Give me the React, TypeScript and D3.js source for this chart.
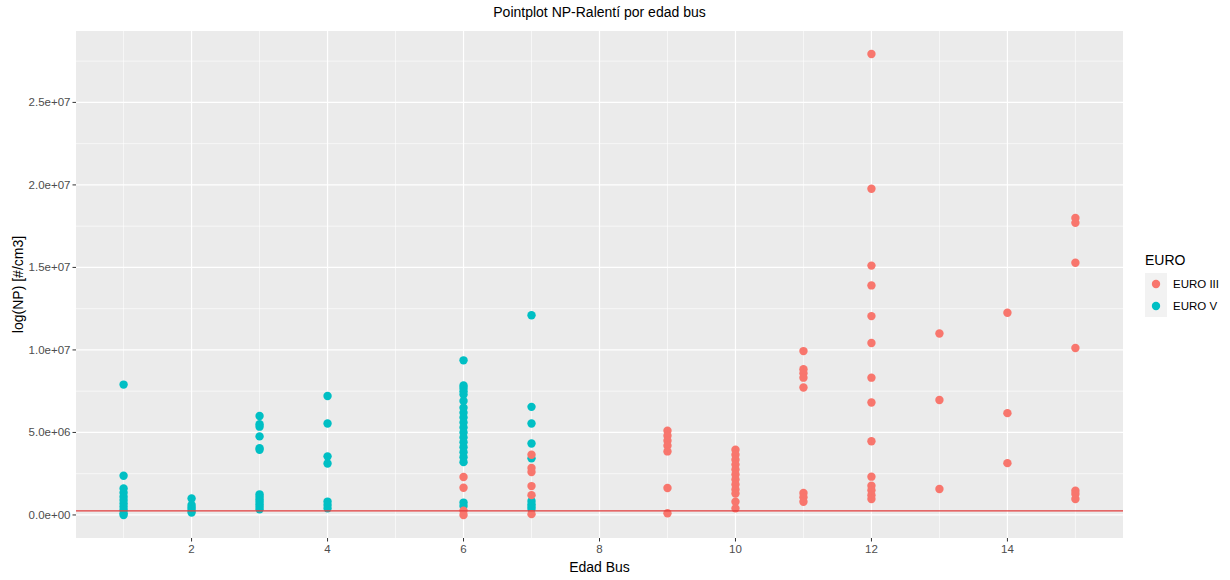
import React, { useEffect } from "react";
import * as d3 from "d3";

// EURO V (teal) – age of bus and NP value
const euroVAge = [
  1, 1, 1, 1, 1, 1, 1, 1, 1, 1, 1,
  2, 2, 2, 2, 2,
  3, 3, 3, 3, 3, 3, 3, 3, 3, 3, 3, 3, 3,
  4, 4, 4, 4, 4, 4, 4,
  6, 6, 6, 6, 6, 6, 6, 6, 6, 6, 6, 6, 6, 6, 6, 6, 6, 6, 6, 6,
  7, 7, 7, 7, 7, 7, 7, 7, 7,
];
const euroVValue = [
  7.9e6, 2.38e6, 1.6e6, 1.35e6, 1.1e6, 0.9e6, 0.7e6, 0.5e6, 0.3e6, 0.1e6, 0.0,
  1.0e6, 0.6e6, 0.45e6, 0.3e6, 0.15e6,
  6.0e6, 5.5e6, 5.35e6, 4.76e6, 4.05e6, 3.95e6, 1.25e6, 1.1e6, 0.95e6, 0.8e6, 0.65e6, 0.5e6, 0.35e6,
  7.21e6, 5.54e6, 3.55e6, 3.12e6, 0.81e6, 0.6e6, 0.4e6,
  9.37e6, 7.85e6, 7.7e6, 7.5e6, 7.3e6, 6.9e6, 6.5e6, 6.2e6, 5.9e6, 5.6e6, 5.3e6, 5.0e6, 4.7e6, 4.4e6, 4.1e6, 3.8e6, 3.5e6, 3.2e6, 0.75e6, 0.55e6,
  12.1e6, 6.55e6, 5.54e6, 4.33e6, 3.43e6, 0.85e6, 0.65e6, 0.5e6, 0.36e6,
];

// EURO III (salmon)
const euroIIIAge = [
  6, 6, 6, 6,
  7, 7, 7, 7, 7, 7,
  9, 9, 9, 9, 9, 9, 9,
  10, 10, 10, 10, 10, 10, 10, 10, 10, 10, 10, 10,
  11, 11, 11, 11, 11, 11, 11, 11,
  12, 12, 12, 12, 12, 12, 12, 12, 12, 12, 12, 12, 12, 12,
  13, 13, 13,
  14, 14, 14,
  15, 15, 15, 15, 15, 15, 15,
];
const euroIIIValue = [
  2.3e6, 1.65e6, 0.26e6, 0.0,
  3.65e6, 2.85e6, 2.6e6, 1.75e6, 1.2e6, 0.05e6,
  5.1e6, 4.8e6, 4.5e6, 4.2e6, 3.85e6, 1.63e6, 0.1e6,
  3.95e6, 3.65e6, 3.35e6, 3.05e6, 2.75e6, 2.45e6, 2.15e6, 1.85e6, 1.55e6, 1.3e6, 0.8e6, 0.4e6,
  9.93e6, 8.83e6, 8.59e6, 8.32e6, 7.72e6, 1.33e6, 1.07e6, 0.8e6,
  27.93e6, 19.77e6, 15.11e6, 13.91e6, 12.05e6, 10.42e6, 8.32e6, 6.81e6, 4.47e6, 2.32e6, 1.77e6, 1.5e6, 1.2e6, 0.97e6,
  11.0e6, 6.97e6, 1.57e6,
  12.25e6, 6.17e6, 3.14e6,
  18.0e6, 17.7e6, 15.28e6, 10.12e6, 1.47e6, 1.27e6, 0.97e6,
];

const referenceLine = 0.25e6;

const xTicks = [2, 4, 6, 8, 10, 12, 14];
const xMinorTicks = [1, 3, 5, 7, 9, 11, 13, 15];
const yTicks = [0, 5e6, 1e7, 1.5e7, 2e7, 2.5e7];
const yTickLabels = ["0.0e+00", "5.0e+06", "1.0e+07", "1.5e+07", "2.0e+07", "2.5e+07"];
const yMinorTicks = [2.5e6, 7.5e6, 12.5e6, 17.5e6, 22.5e6, 27.5e6];

const seriesNames = ["EURO III", "EURO V"];
const seriesColors = ["#F8766D", "#00BFC4"];

const W = 1230;
const H = 580;
const P = { left: 76, right: 1123, top: 31, bottom: 538 };
const FONT = "'Liberation Sans', Arial, sans-serif";

export default function App() {
  useEffect(() => {
    document.body.style.margin = "0";
  }, []);

  const xExt = [1, 15];
  const xr = xExt[1] - xExt[0];
  const x = d3
    .scaleLinear()
    .domain([xExt[0] - 0.05 * xr, xExt[1] + 0.05 * xr])
    .range([P.left, P.right]);

  const allY = euroVValue.concat(euroIIIValue);
  const yMin = d3.min(allY) as number;
  const yMax = d3.max(allY) as number;
  const yr = yMax - yMin;
  const y = d3
    .scaleLinear()
    .domain([yMin - 0.05 * yr, yMax + 0.05 * yr])
    .range([P.bottom, P.top]);

  const r = 4.2;

  return (
    <svg
      width={W}
      height={H}
      style={{ display: "block", position: "absolute", left: 0, top: 0, background: "#fff" }}
      fontFamily={FONT}
    >
      <rect x={0} y={0} width={W} height={H} fill="#fff" />
      {/* panel */}
      <rect x={P.left} y={P.top} width={P.right - P.left} height={P.bottom - P.top} fill="#EBEBEB" />
      {/* minor grid */}
      {yMinorTicks.map((t) => (
        <line key={"ym" + t} x1={P.left} x2={P.right} y1={y(t)} y2={y(t)} stroke="#fff" strokeWidth={0.6} />
      ))}
      {xMinorTicks.map((t) => (
        <line key={"xm" + t} x1={x(t)} x2={x(t)} y1={P.top} y2={P.bottom} stroke="#fff" strokeWidth={0.6} />
      ))}
      {/* major grid */}
      {yTicks.map((t) => (
        <line key={"yM" + t} x1={P.left} x2={P.right} y1={y(t)} y2={y(t)} stroke="#fff" strokeWidth={1.2} />
      ))}
      {xTicks.map((t) => (
        <line key={"xM" + t} x1={x(t)} x2={x(t)} y1={P.top} y2={P.bottom} stroke="#fff" strokeWidth={1.2} />
      ))}

      {/* points: EURO V first, EURO III on top */}
      {euroVAge.map((a, i) => (
        <circle key={"v" + i} cx={x(a)} cy={y(euroVValue[i])} r={r} fill={seriesColors[1]} />
      ))}
      {euroIIIAge.map((a, i) => (
        <circle key={"iii" + i} cx={x(a)} cy={y(euroIIIValue[i])} r={r} fill={seriesColors[0]} />
      ))}

      {/* reference line */}
      <line
        x1={P.left}
        x2={P.right}
        y1={y(referenceLine)}
        y2={y(referenceLine)}
        stroke="#E23B3B"
        strokeWidth={1.1}
      />

      {/* y axis ticks and labels */}
      {yTicks.map((t, i) => (
        <g key={"yt" + t}>
          <line x1={P.left - 3.5} x2={P.left} y1={y(t)} y2={y(t)} stroke="#333" strokeWidth={1} />
          <text
            x={P.left - 5.5}
            y={y(t)}
            dy="0.35em"
            textAnchor="end"
            fontSize={11.5}
            fill="#4D4D4D"
          >
            {yTickLabels[i]}
          </text>
        </g>
      ))}
      {/* x axis ticks and labels */}
      {xTicks.map((t) => (
        <g key={"xt" + t}>
          <line x1={x(t)} x2={x(t)} y1={P.bottom} y2={P.bottom + 3.5} stroke="#333" strokeWidth={1} />
          <text x={x(t)} y={P.bottom + 14.5} textAnchor="middle" fontSize={11.5} fill="#4D4D4D">
            {t}
          </text>
        </g>
      ))}

      {/* titles */}
      <text x={(P.left + P.right) / 2} y={17} textAnchor="middle" fontSize={14} fill="#000">
        Pointplot NP-Ralentí por edad bus
      </text>
      <text x={(P.left + P.right) / 2} y={572} textAnchor="middle" fontSize={14} fill="#000">
        Edad Bus
      </text>
      <text
        transform={`translate(23, ${(P.top + P.bottom) / 2}) rotate(-90)`}
        textAnchor="middle"
        fontSize={14}
        fill="#000"
      >
        log(NP) [#/cm3]
      </text>

      {/* legend */}
      <text x={1145} y={265} fontSize={14} fill="#000">
        EURO
      </text>
      {seriesNames.map((n, i) => (
        <g key={n} transform={`translate(1145, ${273 + i * 22})`}>
          <rect x={0} y={0} width={22} height={22} fill="#F2F2F2" />
          <circle cx={11} cy={11} r={r} fill={seriesColors[i]} />
          <text x={28} y={11} dy="0.35em" fontSize={11.5} fill="#000">
            {n}
          </text>
        </g>
      ))}
    </svg>
  );
}
